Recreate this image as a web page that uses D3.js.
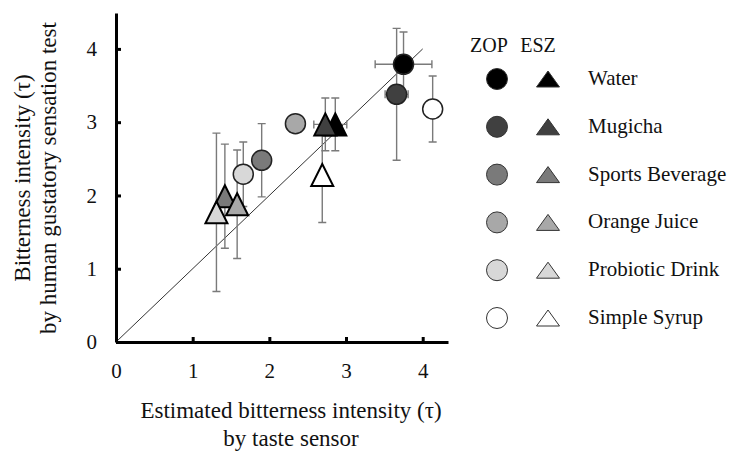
<!DOCTYPE html>
<html>
<head>
<meta charset="utf-8">
<script src="https://cdn.jsdelivr.net/npm/d3@7"></script>
<style>
  body { margin: 0; background: #fff; }
  svg text { font-family: "Liberation Serif", "Times New Roman", serif; fill: #111; }
</style>
</head>
<body>
<svg id="chart" width="729" height="452"></svg>
<script>
// beverages and their fill shades
var drinks = ["Water", "Mugicha", "Sports Beverage", "Orange Juice", "Probiotic Drink", "Simple Syrup"];
var shades = ["#000000", "#404040", "#7a7a7a", "#a8a8a8", "#d8d8d8", "#ffffff"];

// ZOP (circles): sensor estimate vs. human test
var zopX    = [3.75, 3.66, 1.90, 2.34, 1.66, 4.13];
var zopY    = [3.79, 3.38, 2.48, 2.98, 2.29, 3.18];
var zopXErr = [0.37, 0.15, 0, 0, 0, 0];
var zopYErr = [0.44, 0.90, 0.50, 0, 0.44, 0.45];

// ESZ (triangles)
var eszX    = [2.86, 2.73, 1.42, 1.58, 1.31, 2.69];
var eszY    = [2.97, 2.97, 1.99, 1.88, 1.77, 2.28];
var eszXErr = [0.15, 0.15, 0, 0, 0, 0];
var eszYErr = [0.36, 0.36, 0.71, 0.74, 1.08, 0.65];

var ticks = [0, 1, 2, 3, 4];

var svg = d3.select("#chart");

var x = d3.scaleLinear().domain([0, 4.33]).range([116, 448]);
var y = d3.scaleLinear().domain([0, 4.49]).range([342, 13]);

/* reference line y = x */
svg.append("line")
    .attr("x1", x(0)).attr("y1", y(0))
    .attr("x2", x(4)).attr("y2", y(4))
    .style("stroke", "#333")
    .style("stroke-width", 1);

function rows(xs, ys, xe, ye) {
    return drinks.map(function (d, i) {
        return {name: d, fill: shades[i], x: xs[i], y: ys[i], xe: xe[i], ye: ye[i]};
    });
}
var zop = rows(zopX, zopY, zopXErr, zopYErr);
var esz = rows(eszX, eszY, eszXErr, eszYErr);

/* error bars, under the markers */
var cap = 4;
function errorBars(data) {
    var g = svg.append("g")
        .style("stroke", "#7a7a7a")
        .style("stroke-width", 1.4)
        .style("fill", "none");
    data.filter(function (d) { return d.ye > 0; }).forEach(function (d) {
        var cx = x(d.x), t = y(d.y + d.ye), b = y(d.y - d.ye);
        g.append("path").attr("d",
            "M" + cx + "," + t + "V" + b +
            "M" + (cx - cap) + "," + t + "H" + (cx + cap) +
            "M" + (cx - cap) + "," + b + "H" + (cx + cap));
    });
    data.filter(function (d) { return d.xe > 0; }).forEach(function (d) {
        var cy = y(d.y), l = x(d.x - d.xe), r = x(d.x + d.xe);
        g.append("path").attr("d",
            "M" + l + "," + cy + "H" + r +
            "M" + l + "," + (cy - cap) + "V" + (cy + cap) +
            "M" + r + "," + (cy - cap) + "V" + (cy + cap));
    });
}
errorBars(zop);
errorBars(esz);

function tri(w, h) {
    return "M0," + (-h / 2) + "L" + (w / 2) + "," + (h / 2) + "L" + (-w / 2) + "," + (h / 2) + "Z";
}

svg.append("g").selectAll("circle")
    .data(zop)
    .enter().append("circle")
    .attr("cx", function (d) { return x(d.x); })
    .attr("cy", function (d) { return y(d.y); })
    .attr("r", 10)
    .style("fill", function (d) { return d.fill; })
    .style("stroke", "#222")
    .style("stroke-width", 1.5);

svg.append("g").selectAll("path")
    .data(esz)
    .enter().append("path")
    .attr("d", tri(22, 22))
    .attr("transform", function (d) {
        return "translate(" + x(d.x) + "," + y(d.y) + ")";
    })
    .style("fill", function (d) { return d.fill; })
    .style("stroke", "#000")
    .style("stroke-width", 2)
    .style("stroke-linejoin", "miter");

/* axes */
var xAxis = svg.append("g")
    .attr("transform", "translate(0," + y(0) + ")")
    .call(d3.axisBottom(x).tickValues(ticks).tickFormat(d3.format("d"))
        .tickSizeInner(-5).tickSizeOuter(0).tickPadding(21));
var yAxis = svg.append("g")
    .attr("transform", "translate(" + x(0) + ",0)")
    .call(d3.axisLeft(y).tickValues(ticks).tickFormat(d3.format("d"))
        .tickSizeInner(-5).tickSizeOuter(0).tickPadding(19));

[xAxis, yAxis].forEach(function (a) {
    a.attr("font-family", null);
    a.select(".domain").style("stroke", "#000").style("stroke-width", 3);
    a.selectAll(".tick line").style("stroke", "#000").style("stroke-width", 3);
    a.selectAll(".tick text")
        .style("font-size", "21px")
        .style("fill", "#111");
});

/* axis titles */
svg.append("text")
    .attr("x", 291).attr("y", 418)
    .attr("text-anchor", "middle")
    .style("font-size", "23px")
    .text("Estimated bitterness intensity (\u03c4)");
svg.append("text")
    .attr("x", 291).attr("y", 446)
    .attr("text-anchor", "middle")
    .style("font-size", "23px")
    .text("by taste sensor");

var yt = svg.append("text")
    .attr("transform", "translate(0,178) rotate(-90)")
    .attr("text-anchor", "middle")
    .style("font-size", "23px");
yt.append("tspan").attr("x", 0).attr("y", 30).text("Bitterness intensity (\u03c4)");
yt.append("tspan").attr("x", 0).attr("y", 56).text("by human gustatory sensation test");

/* legend */
var lg = svg.append("g");
lg.append("text").attr("x", 489).attr("y", 52).attr("text-anchor", "middle")
    .style("font-size", "20px").text("ZOP");
lg.append("text").attr("x", 538).attr("y", 52).attr("text-anchor", "middle")
    .style("font-size", "20px").text("ESZ");

var row = lg.selectAll(".row")
    .data(drinks)
    .enter().append("g")
    .attr("class", "row")
    .attr("transform", function (d, i) { return "translate(0," + (79 + i * 47.8) + ")"; });

row.append("circle")
    .attr("cx", 497).attr("cy", 0).attr("r", 10.5)
    .style("fill", function (d, i) { return shades[i]; })
    .style("stroke", "#333")
    .style("stroke-width", 1);
row.append("path")
    .attr("d", tri(23, 16))
    .attr("transform", "translate(548,0)")
    .style("fill", function (d, i) { return shades[i]; })
    .style("stroke", "#333")
    .style("stroke-width", 1);
row.append("text")
    .attr("x", 588).attr("y", 6)
    .style("font-size", "21px")
    .text(function (d) { return d; });
</script>
</body>
</html>
